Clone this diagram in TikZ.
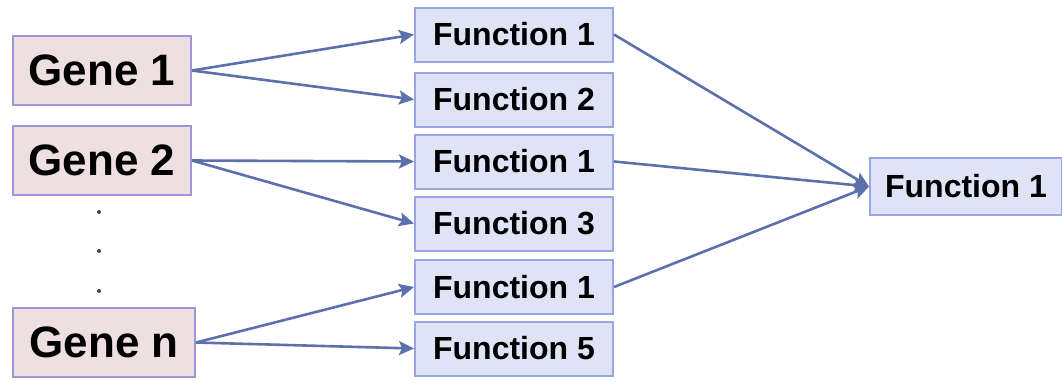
\documentclass[tikz,border=0pt]{standalone}
\usepackage{fontspec}
\setmainfont{Liberation Sans}
\usetikzlibrary{arrows.meta}
\definecolor{genefill}{RGB}{238,224,226}
\definecolor{genedraw}{RGB}{160,150,215}
\definecolor{funcfill}{RGB}{222,228,246}
\definecolor{funcdraw}{RGB}{155,165,228}
\definecolor{link}{RGB}{92,112,172}
\tikzset{
  genebox/.style={draw=genedraw, fill=genefill, line width=2pt, minimum width=178pt, minimum height=69pt, inner sep=0pt,
    font=\fontsize{44}{44}\selectfont\bfseries},
  funcbox/.style={draw=funcdraw, fill=funcfill, line width=2pt, minimum width=198pt, minimum height=54pt, inner sep=0pt,
    font=\fontsize{32}{32}\selectfont\bfseries},
  link/.style={draw=link, line width=2.6pt, -{Stealth[length=15pt,width=14pt,inset=3pt]}},
  dot/.style={circle, fill=black!75, inner sep=0pt, minimum size=4pt}
}
\begin{document}
\begin{tikzpicture}[x=1pt,y=-1pt]
  \useasboundingbox (0,0) rectangle (1062,381);
  % genes
  \node[genebox] (g1) at (102,70.5) {Gene 1};
  \node[genebox] (g2) at (102,160.5) {Gene 2};
  \node[genebox, minimum width=182pt] (gn) at (104,342.5) {Gene n};
  \node[dot] (d1) at (99,212) {};
  \node[dot] (d2) at (99,251) {};
  \node[dot] (d3) at (99,291) {};
  % functions per gene
  \node[funcbox] (f1) at (514,34.5) {Function 1};
  \node[funcbox] (f2) at (514,99.5) {Function 2};
  \node[funcbox] (f3) at (514,161.5) {Function 1};
  \node[funcbox] (f4) at (514,223.5) {Function 3};
  \node[funcbox] (f5) at (514,287) {Function 1};
  \node[funcbox] (f6) at (514,348.5) {Function 5};
  % shared function
  \node[funcbox, minimum width=192pt, minimum height=57pt] (fx) at (966,186.5) {Function 1};
  % links
  \draw[link] (g1.east) -- (f1.west);
  \draw[link] (g1.east) -- (f2.west);
  \draw[link] (g2.east) -- (f3.west);
  \draw[link] (g2.east) -- (f4.west);
  \draw[link] (gn.east) -- (f5.west);
  \draw[link] (gn.east) -- (f6.west);
  \draw[link] (f1.east) -- (fx.west);
  \draw[link] (f3.east) -- (fx.west);
  \draw[link] (f5.east) -- (fx.west);
\end{tikzpicture}
\end{document}
